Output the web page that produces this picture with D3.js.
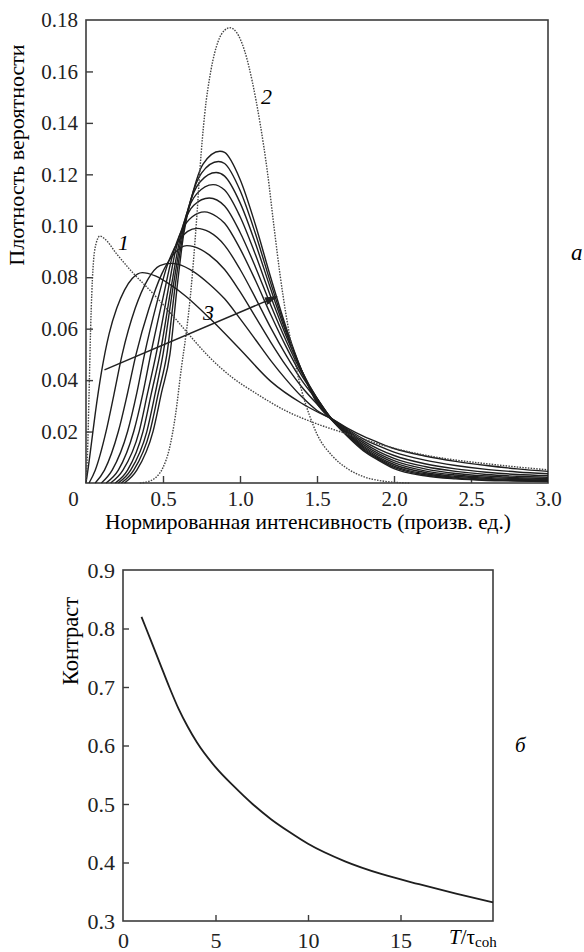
<html>
<head>
<script src="https://d3js.org/d3.v7.min.js"></script>
</head>
<body style="margin:0">
<svg id="fig" width="584" height="952"></svg>
<script>
// ---- data ----
// panel a: x ticks / y ticks
const xTicksA = [0, 0.5, 1.0, 1.5, 2.0, 2.5, 3.0];
const yTicksA = [0.02, 0.04, 0.06, 0.08, 0.10, 0.12, 0.14, 0.16, 0.18];

// dotted curve 1 and dotted curve 2, [intensity, density]
const dotted1 = [[0,0],[0.01,0.012],[0.02,0.035],[0.03,0.06],[0.045,0.083],[0.065,0.093],[0.09,0.096],[0.12,0.095],[0.2,0.089],[0.3,0.082],[0.43,0.074],[0.55,0.066],[0.65,0.059],[0.8,0.049],[0.95,0.041],[1.1,0.035],[1.3,0.028],[1.5,0.023],[1.7,0.019],[2.0,0.0135],[2.3,0.0098],[2.6,0.0075],[3.0,0.0051]];
const dotted2 = [[0.35,0],[0.4,0.0005],[0.45,0.002],[0.5,0.006],[0.54,0.013],[0.58,0.026],[0.62,0.045],[0.65,0.058],[0.68,0.074],[0.7,0.088],[0.72,0.104],[0.74,0.122],[0.77,0.143],[0.81,0.16],[0.86,0.172],[0.9,0.176],[0.935,0.177],[0.98,0.175],[1.03,0.168],[1.08,0.156],[1.13,0.14],[1.18,0.12],[1.22,0.1],[1.26,0.081],[1.3,0.065],[1.35,0.049],[1.4,0.036],[1.45,0.0265],[1.5,0.019],[1.6,0.0105],[1.7,0.0055],[1.8,0.0025],[1.9,0.001],[2.0,0.0003],[2.1,0]];

// solid family (curve 3), one array per curve
const solid1 = [[0,0],[0.01,0.004],[0.03,0.013],[0.06,0.027],[0.1,0.043],[0.15,0.058],[0.2,0.068],[0.25,0.075],[0.3,0.0795],[0.365,0.0818],[0.45,0.0805],[0.55,0.077],[0.65,0.0725],[0.8,0.0642],[1.0,0.052],[1.2,0.0395],[1.4,0.031],[1.5,0.0277],[1.6,0.0248],[1.7,0.0212],[1.8,0.0182],[1.9,0.0157],[2.0,0.0134],[2.2,0.0105],[2.4,0.0084],[2.6,0.0068],[2.8,0.0055],[3.0,0.0045]];
const solid2 = [[0.02,0],[0.06,0.005],[0.13,0.02],[0.18,0.034],[0.235,0.05],[0.32,0.068],[0.4,0.079],[0.48,0.0845],[0.55,0.0854],[0.6,0.085],[0.7,0.0821],[0.8,0.0774],[0.9,0.0716],[1.0,0.0639],[1.1,0.0558],[1.2,0.0476],[1.3,0.0402],[1.4,0.0336],[1.5,0.0282],[1.6,0.0248],[1.7,0.0208],[1.8,0.0172],[1.9,0.0144],[2.0,0.012],[2.2,0.0089],[2.4,0.0068],[2.6,0.0053],[2.8,0.0043],[3.0,0.0036]];
const solid3 = [[0.06,0],[0.12,0.005],[0.21,0.02],[0.27,0.035],[0.325,0.05],[0.41,0.068],[0.49,0.081],[0.57,0.089],[0.655,0.0923],[0.7,0.0919],[0.8,0.0887],[0.9,0.083],[1.0,0.0744],[1.1,0.0646],[1.2,0.0547],[1.3,0.0455],[1.4,0.0374],[1.5,0.0307],[1.6,0.0247],[1.7,0.0204],[1.8,0.0164],[1.9,0.0132],[2.0,0.0107],[2.2,0.0075],[2.4,0.0055],[2.6,0.0042],[2.8,0.0033],[3.0,0.0028]];
const solid4 = [[0.1,0],[0.17,0.005],[0.27,0.02],[0.33,0.035],[0.38,0.05],[0.46,0.07],[0.53,0.085],[0.6,0.094],[0.66,0.0978],[0.72,0.099],[0.8,0.0976],[0.9,0.0924],[1.0,0.0831],[1.1,0.072],[1.2,0.0603],[1.3,0.0496],[1.4,0.04],[1.5,0.0322],[1.6,0.0246],[1.7,0.02],[1.8,0.0157],[1.9,0.0122],[2.0,0.0096],[2.2,0.0064],[2.4,0.0045],[2.6,0.0033],[2.8,0.0026],[3.0,0.0022]];
const solid5 = [[0.13,0],[0.21,0.005],[0.31,0.02],[0.37,0.035],[0.42,0.05],[0.5,0.072],[0.56,0.088],[0.62,0.098],[0.69,0.1035],[0.77,0.1054],[0.85,0.1035],[0.9,0.101],[1.0,0.0911],[1.1,0.0788],[1.2,0.0654],[1.3,0.0529],[1.4,0.0418],[1.5,0.0329],[1.6,0.0246],[1.7,0.0196],[1.8,0.015],[1.9,0.0114],[2.0,0.0087],[2.2,0.0055],[2.4,0.0037],[2.6,0.0027],[2.8,0.0021],[3.0,0.0017]];
const solid6 = [[0.16,0],[0.24,0.005],[0.345,0.02],[0.4,0.035],[0.455,0.05],[0.53,0.074],[0.58,0.09],[0.635,0.101],[0.7,0.108],[0.8,0.1108],[0.9,0.1077],[1.0,0.0975],[1.1,0.084],[1.2,0.0691],[1.3,0.0552],[1.4,0.0429],[1.5,0.033],[1.6,0.0245],[1.7,0.0192],[1.8,0.0144],[1.9,0.0107],[2.0,0.0079],[2.2,0.0047],[2.4,0.0031],[2.6,0.0022],[2.8,0.0017],[3.0,0.0014]];
const solid7 = [[0.19,0],[0.27,0.005],[0.37,0.02],[0.425,0.035],[0.48,0.05],[0.55,0.075],[0.6,0.092],[0.65,0.104],[0.72,0.1125],[0.825,0.116],[0.9,0.1139],[1.0,0.1036],[1.1,0.0888],[1.2,0.0724],[1.3,0.0571],[1.4,0.0437],[1.5,0.0329],[1.6,0.0245],[1.7,0.0189],[1.8,0.0139],[1.9,0.0101],[2.0,0.0072],[2.2,0.0041],[2.4,0.0026],[2.6,0.0018],[2.8,0.0014],[3.0,0.0011]];
const solid8 = [[0.21,0],[0.29,0.005],[0.395,0.02],[0.45,0.035],[0.5,0.05],[0.565,0.076],[0.615,0.094],[0.665,0.107],[0.74,0.117],[0.845,0.1207],[0.9,0.1193],[1.0,0.109],[1.1,0.0932],[1.2,0.0753],[1.3,0.0584],[1.4,0.0437],[1.5,0.0322],[1.6,0.0244],[1.7,0.0186],[1.8,0.0134],[1.9,0.0096],[2.0,0.0066],[2.2,0.0036],[2.4,0.0022],[2.6,0.0015],[2.8,0.0011],[3.0,0.0009]];
const solid9 = [[0.23,0],[0.31,0.005],[0.415,0.02],[0.47,0.035],[0.525,0.05],[0.58,0.077],[0.625,0.095],[0.68,0.11],[0.75,0.1205],[0.86,0.125],[0.9,0.1242],[1.0,0.1138],[1.1,0.097],[1.2,0.0776],[1.3,0.0594],[1.4,0.0438],[1.5,0.0315],[1.6,0.0243],[1.7,0.0183],[1.8,0.013],[1.9,0.0092],[2.0,0.0061],[2.2,0.0032],[2.4,0.0019],[2.6,0.0012],[2.8,0.0009],[3.0,0.0007]];
const solid10 = [[0.25,0],[0.33,0.005],[0.435,0.02],[0.49,0.035],[0.545,0.05],[0.595,0.078],[0.635,0.097],[0.69,0.112],[0.76,0.124],[0.87,0.129],[0.9,0.1285],[1.0,0.1181],[1.1,0.1004],[1.2,0.0798],[1.3,0.0604],[1.4,0.0438],[1.5,0.031],[1.6,0.0242],[1.7,0.018],[1.8,0.0126],[1.9,0.0088],[2.0,0.0056],[2.2,0.0028],[2.4,0.0016],[2.6,0.001],[2.8,0.0008],[3.0,0.0006]];

// arrow "3" (start, end) in data units
const arrow3 = [[0.12, 0.044], [1.24, 0.0725]];

// panel б: contrast vs T/tau_coh
const xTicksB = [0, 5, 10, 15];
const yTicksB = [0.3, 0.4, 0.5, 0.6, 0.7, 0.8, 0.9];
const ratioT = [1, 1.5, 2, 2.5, 3, 3.5, 4, 5, 6, 7, 8, 9, 10, 12, 14, 16, 18, 20];
const contrast = [0.82, 0.78, 0.74, 0.70, 0.663, 0.632, 0.605, 0.563, 0.53, 0.50, 0.474, 0.452, 0.432, 0.402, 0.38, 0.363, 0.347, 0.332];

const FONT = "Liberation Serif";
const INK = "#3c3c3c";
const svg = d3.select("#fig");

// style an axis group the way the figure does (inward ticks, serif labels)
function dressAxis(g, size) {
  g.attr("font-family", FONT).attr("font-size", size);
  g.select(".domain").remove();
  g.selectAll(".tick line").attr("stroke", INK).attr("stroke-width", 1.4);
  g.selectAll(".tick text").attr("fill", "#222").attr("font-family", FONT).attr("font-size", size);
}

// ================= panel a =================
const xA = d3.scaleLinear().domain([0, 3]).range([86, 548]);
const yA = d3.scaleLinear().domain([0, 0.18]).range([483, 20]);

svg.append("defs").append("marker")
    .attr("id", "head")
    .attr("viewBox", "0 0 13 8")
    .attr("refX", 12).attr("refY", 4)
    .attr("markerWidth", 13).attr("markerHeight", 8)
    .attr("markerUnits", "userSpaceOnUse")
    .attr("orient", "auto")
  .append("path")
    .attr("d", "M0,0 L13,4 L0,8 Z")
    .attr("fill", "#222");

const gA = svg.append("g");

gA.append("g")
    .attr("transform", "translate(0,483)")
    .call(d3.axisBottom(xA).tickValues(xTicksA).tickSizeInner(-7).tickSizeOuter(0).tickPadding(8)
          .tickFormat(d => d === 0 ? "0" : d3.format(".1f")(d)))
    .call(dressAxis, 21)
    .call(g => g.selectAll(".tick").filter(d => d === 0).select("text").attr("dx", -13))
    .call(g => g.selectAll(".tick").filter(d => d === 0 || d === 3).select("line").remove());

gA.append("g")
    .attr("transform", "translate(86,0)")
    .call(d3.axisLeft(yA).tickValues(yTicksA).tickSizeInner(-7).tickSizeOuter(0).tickPadding(8)
          .tickFormat(d3.format(".2f")))
    .call(dressAxis, 21)
    .call(g => g.selectAll(".tick").filter(d => d === 0.18).select("line").remove());

gA.append("rect")
    .attr("x", xA(0)).attr("y", yA(0.18))
    .attr("width", xA(3) - xA(0)).attr("height", yA(0) - yA(0.18))
    .attr("fill", "none").attr("stroke", INK).attr("stroke-width", 1.6);

const lineA = d3.line()
    .x(d => xA(d[0]))
    .y(d => yA(d[1]))
    .curve(d3.curveMonotoneX);

const family = [solid1, solid2, solid3, solid4, solid5, solid6, solid7, solid8, solid9, solid10];
gA.selectAll(".solid")
    .data(family)
    .join("path")
    .attr("class", "solid")
    .attr("d", lineA)
    .attr("fill", "none")
    .attr("stroke", "#1e1e1e")
    .attr("stroke-width", 1.4);

gA.selectAll(".dotted")
    .data([dotted1, dotted2])
    .join("path")
    .attr("class", "dotted")
    .attr("d", lineA)
    .attr("fill", "none")
    .attr("stroke", "#444")
    .attr("stroke-width", 1.4)
    .attr("stroke-dasharray", "1.5,1.3");

gA.append("line")
    .attr("x1", xA(arrow3[0][0])).attr("y1", yA(arrow3[0][1]))
    .attr("x2", xA(arrow3[1][0])).attr("y2", yA(arrow3[1][1]))
    .attr("stroke", "#222").attr("stroke-width", 1.5)
    .attr("marker-end", "url(#head)");

// curve numbers
gA.append("text").attr("font-family", FONT).attr("x", 118).attr("y", 250).attr("font-size", 22).attr("font-style", "italic").text("1");
gA.append("text").attr("font-family", FONT).attr("x", 261).attr("y", 104).attr("font-size", 22).attr("font-style", "italic").text("2");
gA.append("text").attr("font-family", FONT).attr("x", 203).attr("y", 320).attr("font-size", 22).attr("font-style", "italic").text("3");

gA.append("text")
    .attr("font-family", FONT)
    .attr("transform", "translate(24,155) rotate(-90)")
    .attr("text-anchor", "middle")
    .attr("font-size", 22)
    .text("Плотность вероятности");

gA.append("text")
    .attr("font-family", FONT)
    .attr("x", 308).attr("y", 529)
    .attr("text-anchor", "middle")
    .attr("font-size", 21.5)
    .text("Нормированная интенсивность (произв. ед.)");

gA.append("text").attr("font-family", FONT).attr("x", 571).attr("y", 260).attr("font-size", 23).attr("font-style", "italic").text("a");

// ================= panel б =================
const xB = d3.scaleLinear().domain([0, 20]).range([123, 493]);
const yB = d3.scaleLinear().domain([0.3, 0.9]).range([921, 570]);

const gB = svg.append("g");

gB.append("g")
    .attr("transform", "translate(0,921)")
    .call(d3.axisBottom(xB).tickValues(xTicksB).tickSizeInner(-6).tickSizeOuter(0).tickPadding(11))
    .call(dressAxis, 22)
    .call(g => g.selectAll(".tick").filter(d => d === 0).select("line").remove());

gB.append("g")
    .attr("transform", "translate(123,0)")
    .call(d3.axisLeft(yB).tickValues(yTicksB).tickSizeInner(-6).tickSizeOuter(0).tickPadding(8)
          .tickFormat(d3.format(".1f")))
    .call(dressAxis, 22)
    .call(g => g.selectAll(".tick").filter(d => d === 0.3 || d === 0.9).select("line").remove());

gB.append("rect")
    .attr("x", xB(0)).attr("y", yB(0.9))
    .attr("width", xB(20) - xB(0)).attr("height", yB(0.3) - yB(0.9))
    .attr("fill", "none").attr("stroke", INK).attr("stroke-width", 1.6);

const lineB = d3.line()
    .x((d, i) => xB(ratioT[i]))
    .y(d => yB(d))
    .curve(d3.curveMonotoneX);

gB.append("path")
    .attr("d", lineB(contrast))
    .attr("fill", "none")
    .attr("stroke", "#1e1e1e")
    .attr("stroke-width", 1.8);

// axis title sits where the "20" label would be
const tLab = gB.append("text")
    .attr("font-family", FONT)
    .attr("x", 449).attr("y", 944)
    .attr("font-size", 21);
tLab.append("tspan").attr("font-style", "italic").text("T");
tLab.append("tspan").text("/τ");
tLab.append("tspan").attr("font-size", 15).attr("dy", 3).text("coh");

gB.append("text")
    .attr("font-family", FONT)
    .attr("transform", "translate(78,641) rotate(-90)")
    .attr("text-anchor", "middle")
    .attr("font-size", 22.5)
    .text("Контраст");

gB.append("text").attr("font-family", FONT).attr("x", 515).attr("y", 752).attr("font-size", 21).attr("font-style", "italic").text("б");
</script>
</body>
</html>
